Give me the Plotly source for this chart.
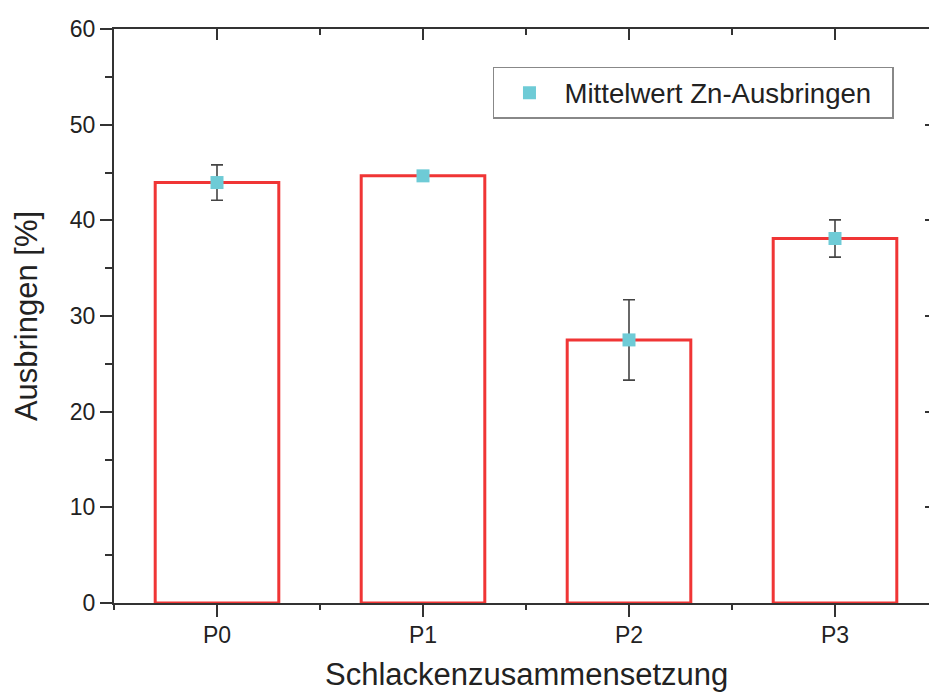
import plotly.graph_objects as go

# Slag compositions and mean zinc recovery with standard deviation
categories = ["P0", "P1", "P2", "P3"]
mean_recovery = [43.95, 44.65, 27.5, 38.1]
recovery_std = [1.85, 0.35, 4.2, 1.95]
y_ticks = [0, 10, 20, 30, 40, 50, 60]

x_pos = list(range(len(categories)))

AXIS = "#333333"
TEXT = "#222222"
FONT = "Liberation Sans, Arial, sans-serif"

fig = go.Figure()

# Hollow red bars
fig.add_trace(go.Bar(
    x=x_pos, y=mean_recovery, width=0.6,
    marker=dict(color="white", line=dict(color="#F03535", width=3)),
    showlegend=False, hoverinfo="skip",
))

# Mean markers with error bars
fig.add_trace(go.Scatter(
    x=x_pos, y=mean_recovery, mode="markers",
    name="Mittelwert Zn-Ausbringen\u00a0\u00a0",
    marker=dict(symbol="square", size=13, color="#6ECBD6"),
    error_y=dict(type="data", array=recovery_std, visible=True,
                 color="#444444", thickness=1.6, width=6),
))

# Invisible companion trace so the top/right frame axes get drawn
fig.add_trace(go.Scatter(
    x=x_pos, y=mean_recovery, xaxis="x2", yaxis="y2", mode="markers",
    marker=dict(opacity=0), showlegend=False, hoverinfo="skip",
))

x_range = [-0.5, -0.5 + 815 / 206]

fig.update_layout(
    width=929, height=694,
    margin=dict(l=114, r=0, t=29, b=91),
    paper_bgcolor="white", plot_bgcolor="white",
    font=dict(family=FONT, color=TEXT, size=23),
    showlegend=True,
    legend=dict(
        x=0.465, y=0.889, xanchor="left", yanchor="middle",
        bgcolor="white", bordercolor="#888888", borderwidth=1.5,
        font=dict(size=27.6, color=TEXT), itemwidth=60,
    ),
    xaxis=dict(
        range=x_range, tickmode="array", tickvals=x_pos, ticktext=categories,
        showline=True, linecolor=AXIS, linewidth=2,
        ticks="outside", ticklen=12, tickwidth=2, tickcolor=AXIS,
        minor=dict(tickmode="array", tickvals=[-0.5, 0.5, 1.5, 2.5, 3.5],
                   ticks="outside", ticklen=5, tickwidth=2, tickcolor=AXIS),
        showgrid=False, zeroline=False,
        tickfont=dict(size=23, color=TEXT), ticklabelstandoff=-2,
    ),
    yaxis=dict(
        range=[0, 60], tickmode="array", tickvals=y_ticks,
        showline=True, linecolor=AXIS, linewidth=2,
        ticks="outside", ticklen=12, tickwidth=2, tickcolor=AXIS,
        minor=dict(tickmode="array", tickvals=[5, 15, 25, 35, 45, 55],
                   ticks="outside", ticklen=7, tickwidth=2, tickcolor=AXIS),
        showgrid=False, zeroline=False,
        tickfont=dict(size=23, color=TEXT),
        title=dict(text="Ausbringen [%]", font=dict(size=31, color=TEXT),
                   standoff=23),
    ),
    # Top frame axis with inward ticks
    xaxis2=dict(
        overlaying="x", side="top", anchor="y2", range=x_range,
        tickmode="array", tickvals=x_pos, showticklabels=False,
        showline=True, linecolor=AXIS, linewidth=2,
        ticks="inside", ticklen=11, tickwidth=2, tickcolor=AXIS,
        minor=dict(tickmode="array", tickvals=[-0.5, 0.5, 1.5, 2.5, 3.5],
                   ticks="inside", ticklen=6, tickwidth=2, tickcolor=AXIS),
        showgrid=False, zeroline=False,
    ),
    # Right frame axis with inward ticks
    yaxis2=dict(
        overlaying="y", side="right", anchor="x2", range=[0, 60],
        tickmode="array", tickvals=y_ticks, showticklabels=False,
        showline=False, ticks="inside", ticklen=4, tickwidth=2, tickcolor=AXIS,
        showgrid=False, zeroline=False,
    ),
)

# X-axis title, centred under the full axis span (right frame lies past the page edge)
fig.add_annotation(
    text="Schlackenzusammensetzung", xref="x", x=(x_range[0] + 3.5) / 2,
    yref="paper", y=-0.1585, xanchor="center", yanchor="bottom",
    showarrow=False, font=dict(size=31, color=TEXT),
)

fig.write_html("out.html")
